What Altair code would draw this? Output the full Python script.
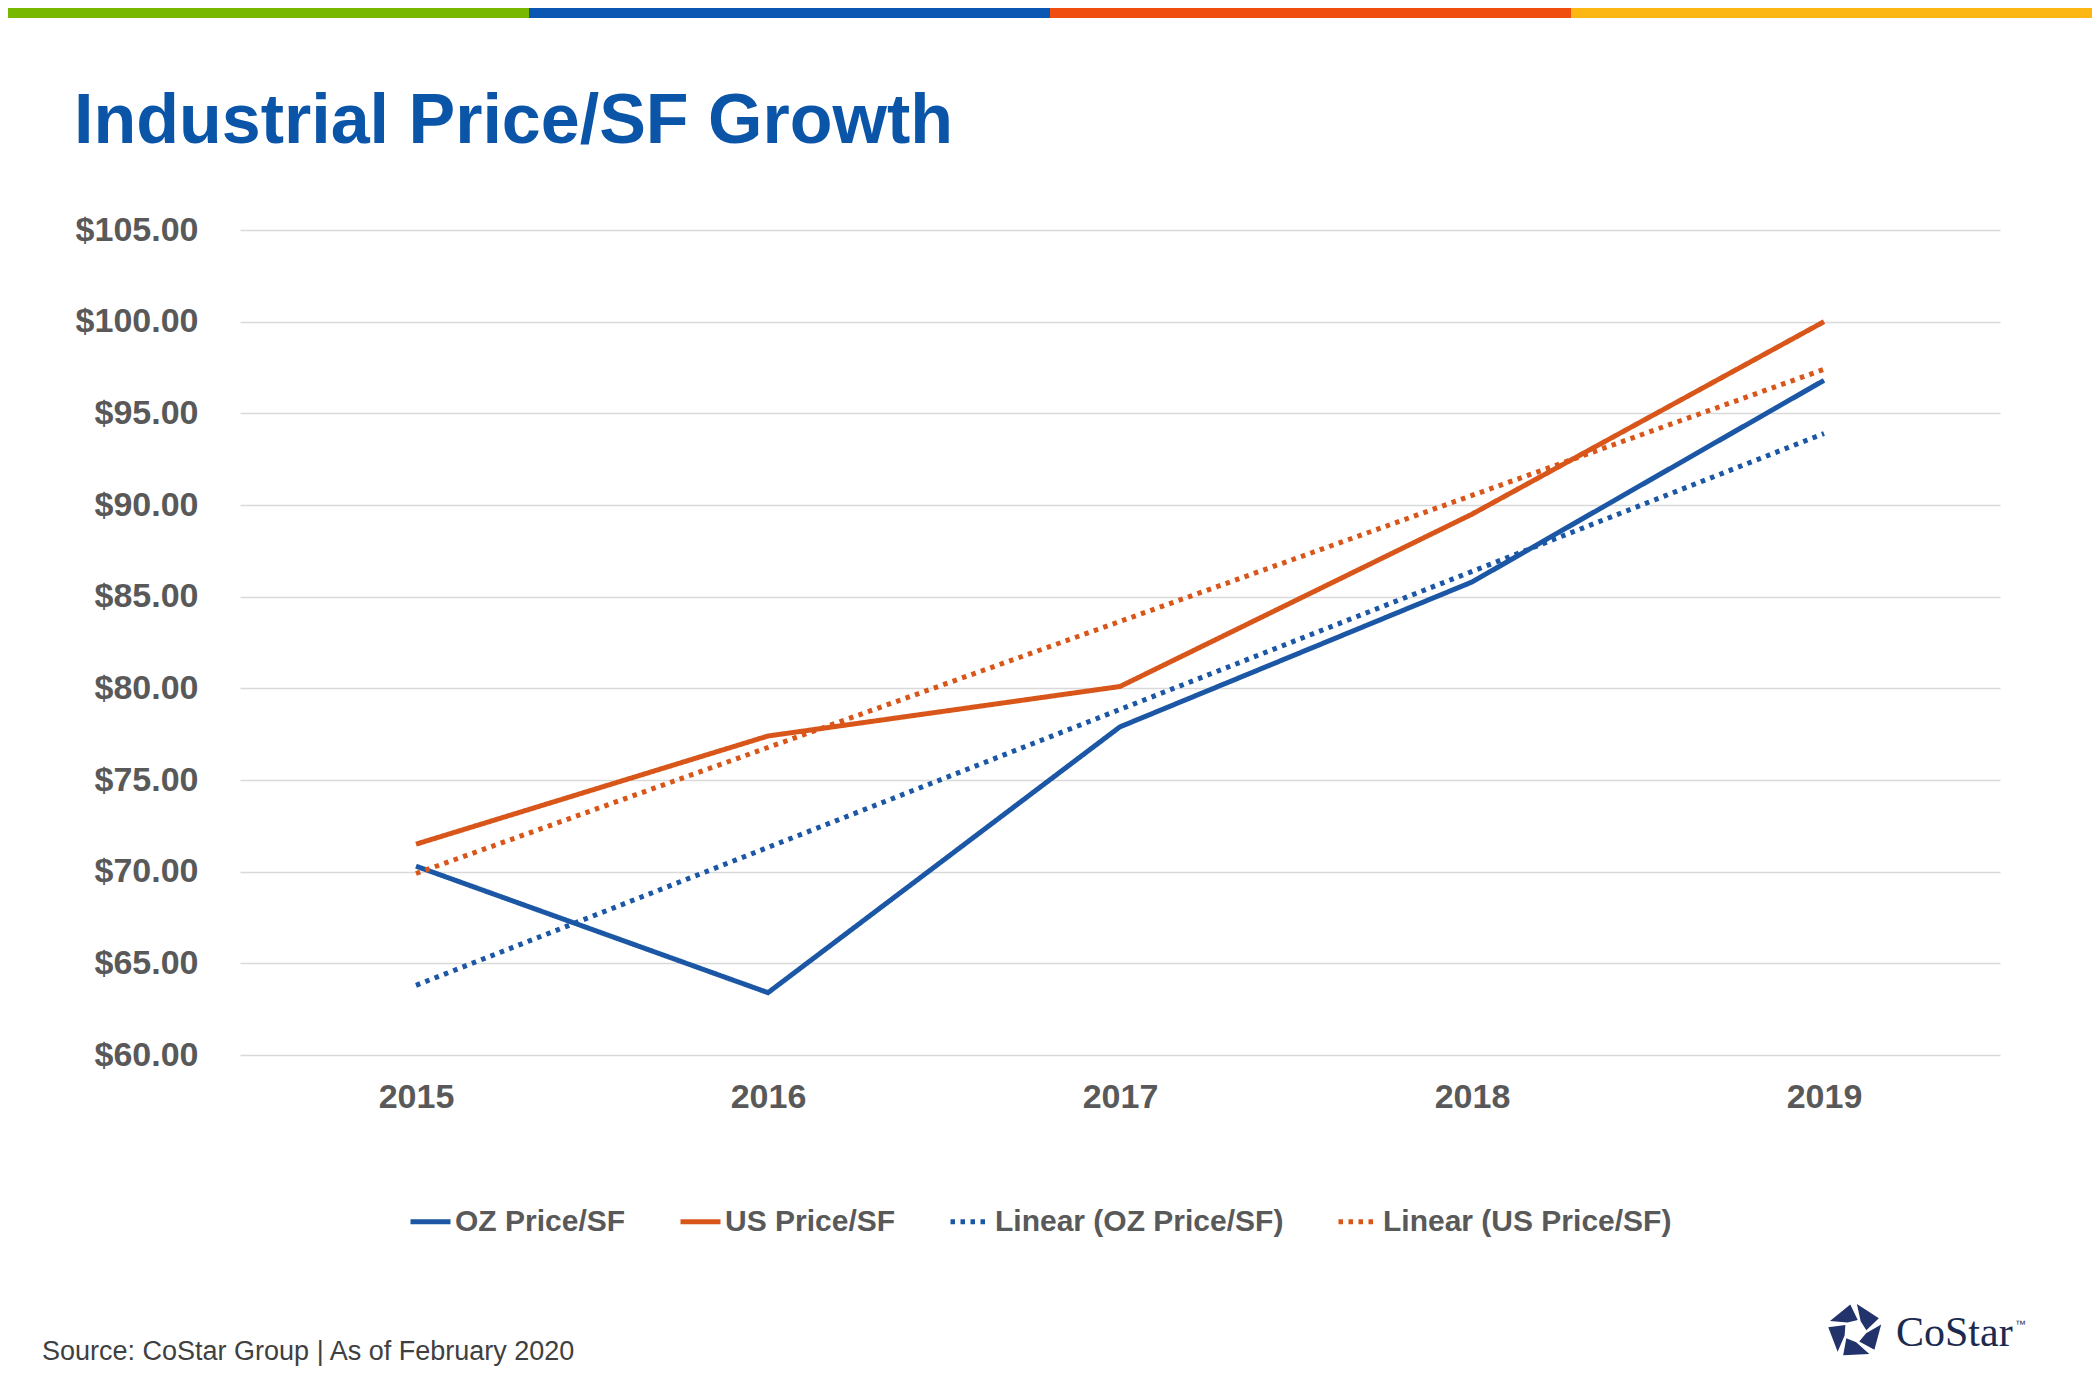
import math
import altair as alt
import pandas as pd

# ---------------- data ----------------
years = ["2015", "2016", "2017", "2018", "2019"]
oz_price = [70.3, 63.4, 77.9, 85.8, 96.8]
us_price = [71.5, 77.4, 80.1, 89.5, 100.0]
trend_years = ["2015", "2019"]
oz_trend = [63.8, 93.9]
us_trend = [69.9, 97.4]

series_names = ["OZ Price/SF", "US Price/SF", "Linear (OZ Price/SF)", "Linear (US Price/SF)"]
series_colors = ["#1B57A5", "#D9561B", "#1B57A5", "#D9561B"]
series_dash = [[1, 0], [1, 0], [4.5, 5.5], [4.5, 5.5]]
y_ticks = [60, 65, 70, 75, 80, 85, 90, 95, 100, 105]

title_text = "Industrial Price/SF Growth"
source_text = "Source: CoStar Group | As of February 2020"
brand_text = "CoStar"
band_colors = ["#78B800", "#0B56B2", "#F04E0E", "#FDB714"]

FONT = "Liberation Sans, Arial, sans-serif"
GRAY = "#595959"

rows = []
for y, v in zip(years, oz_price):
    rows.append({"year": y, "value": v, "series": series_names[0]})
for y, v in zip(years, us_price):
    rows.append({"year": y, "value": v, "series": series_names[1]})
for y, v in zip(trend_years, oz_trend):
    rows.append({"year": y, "value": v, "series": series_names[2]})
for y, v in zip(trend_years, us_trend):
    rows.append({"year": y, "value": v, "series": series_names[3]})
df = pd.DataFrame(rows)

W, H = 1760, 825

legend = alt.Legend(
    title=None,
    orient="none",
    legendX=168,
    legendY=969,
    direction="horizontal",
    columns=4,
    symbolType="stroke",
    symbolSize=1600,
    symbolStrokeWidth=5,
    labelFont=FONT,
    labelFontSize=30,
    labelFontWeight="bold",
    labelColor=GRAY,
    labelOffset=2,
    labelLimit=0,
    columnPadding=44,
    padding=0,
)

lines = alt.Chart(df).mark_line(strokeWidth=5, strokeCap="butt").encode(
    x=alt.X(
        "year:O",
        sort=years,
        scale=alt.Scale(type="point", padding=0.5, domain=years),
        axis=alt.Axis(
            title=None,
            labelAngle=0,
            labelFont=FONT,
            labelFontSize=34,
            labelFontWeight="bold",
            labelColor=GRAY,
            labelPadding=25,
            ticks=False,
            tickSize=0,
            domain=False,
            grid=False,
        ),
    ),
    y=alt.Y(
        "value:Q",
        scale=alt.Scale(domain=[60, 105], nice=False, zero=False),
        axis=alt.Axis(
            title=None,
            values=y_ticks,
            format="$.2f",
            labelFont=FONT,
            labelFontSize=34,
            labelFontWeight="bold",
            labelColor=GRAY,
            labelPadding=42,
            ticks=False,
            tickSize=0,
            domain=False,
            grid=True,
            gridColor="#D9D9D9",
            gridWidth=1.5,
        ),
    ),
    color=alt.Color(
        "series:N",
        scale=alt.Scale(domain=series_names, range=series_colors),
        legend=legend,
    ),
    strokeDash=alt.StrokeDash(
        "series:N",
        scale=alt.Scale(domain=series_names, range=series_dash),
        legend=legend,
    ),
)

dummy = pd.DataFrame({"k": [0]})

# coloured band across the top
band_w = (2092 - 8) / 4.0
bands = []
for i, c in enumerate(band_colors):
    x0 = -232 + i * band_w
    bands.append(
        alt.Chart(dummy).mark_rect(color=c).encode(
            x=alt.value(x0), x2=alt.value(x0 + band_w + 0.5),
            y=alt.value(-222), y2=alt.value(-212),
        )
    )

title = alt.Chart(dummy).mark_text(
    text=title_text, align="left", baseline="alphabetic",
    font=FONT, fontSize=70, fontWeight="bold", color="#0B55A8",
).encode(x=alt.value(-166), y=alt.value(-87))

source = alt.Chart(dummy).mark_text(
    text=source_text, align="left", baseline="alphabetic",
    font=FONT, fontSize=27, color="#404040",
).encode(x=alt.value(-198), y=alt.value(1130))

brand = alt.Chart(dummy).mark_text(
    text=brand_text, align="left", baseline="alphabetic",
    font="Liberation Serif, Times New Roman, serif", fontSize=42, color="#1B2A4E",
).encode(x=alt.value(1656), y=alt.value(1116))

tm = alt.Chart(dummy).mark_text(
    text="™", align="left", baseline="alphabetic",
    font=FONT, fontSize=11, color="#1B2A4E",
).encode(x=alt.value(1775), y=alt.value(1098))

# logo glyph: five skewed pieces forming a pinwheel pentagon
def pt(r, deg):
    a = math.radians(deg)
    return r * math.cos(a), r * math.sin(a)

parts = []
for k in range(5):
    a = -90 + 72 * k
    p = [pt(1.0, a + 4), pt(1.0, a + 62), pt(0.42, a + 86), pt(0.42, a + 30)]
    parts.append("M" + " L".join(f"{x:.3f},{y:.3f}" for x, y in p) + " Z")
logo_path = " ".join(parts)

logo = alt.Chart(dummy).mark_point(
    shape=logo_path, filled=True, color="#22336B", size=2916, strokeWidth=0, opacity=1,
).encode(x=alt.value(1615), y=alt.value(1101))

chart = alt.layer(*bands, title, lines, source, brand, tm, logo).properties(
    width=W,
    height=H,
    autosize=alt.AutoSizeParams(type="none"),
    padding={"left": 232, "top": 222, "right": 92, "bottom": 337},
    background="white",
).configure_view(strokeWidth=0)

chart.save("out.html", embed_options={"renderer": "svg", "actions": False})
